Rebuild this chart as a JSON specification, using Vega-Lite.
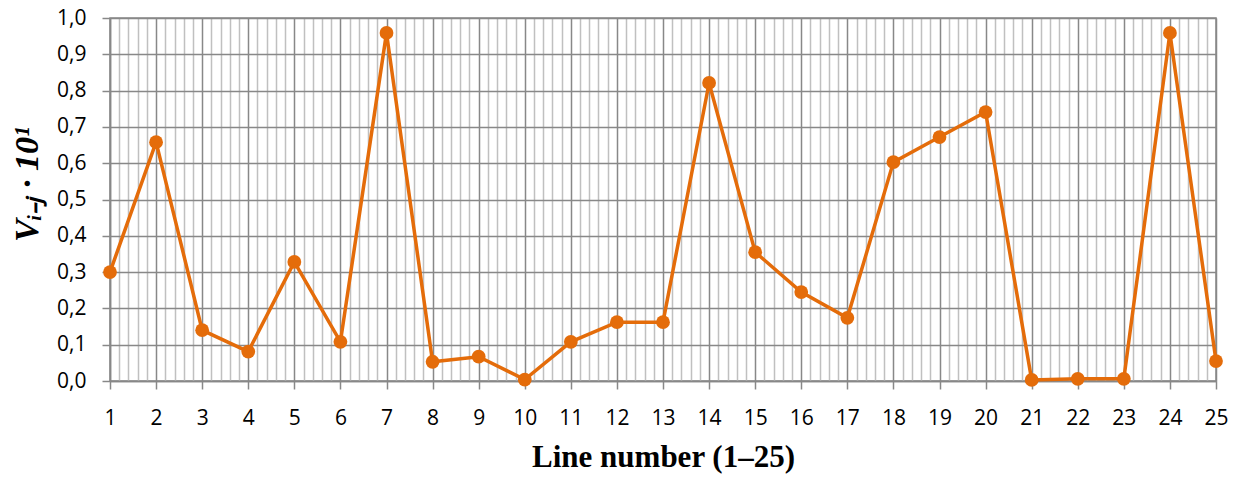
{
  "$schema": "https://vega.github.io/schema/vega-lite/v6.json",
  "autosize": {"type": "none"},
  "padding": {"left": 110, "top": 18, "right": 29, "bottom": 98},
  "width": 1106,
  "height": 363,
  "background": "white",
  "config": {"view": {"stroke": "#888888", "strokeWidth": 1.5}},
  "data": {"values": [
    {"line": 1, "v": 0.300},
    {"line": 2, "v": 0.658},
    {"line": 3, "v": 0.140},
    {"line": 4, "v": 0.081},
    {"line": 5, "v": 0.328},
    {"line": 6, "v": 0.108},
    {"line": 7, "v": 0.959},
    {"line": 8, "v": 0.053},
    {"line": 9, "v": 0.067},
    {"line": 10, "v": 0.004},
    {"line": 11, "v": 0.108},
    {"line": 12, "v": 0.162},
    {"line": 13, "v": 0.162},
    {"line": 14, "v": 0.821},
    {"line": 15, "v": 0.355},
    {"line": 16, "v": 0.245},
    {"line": 17, "v": 0.174},
    {"line": 18, "v": 0.603},
    {"line": 19, "v": 0.672},
    {"line": 20, "v": 0.741},
    {"line": 21, "v": 0.003},
    {"line": 22, "v": 0.006},
    {"line": 23, "v": 0.006},
    {"line": 24, "v": 0.959},
    {"line": 25, "v": 0.055}
  ]},
  "encoding": {
    "y": {"field": "v", "type": "quantitative",
      "scale": {"domain": [0, 1], "nice": false},
      "axis": {"values": [0,0.1,0.2,0.3,0.4,0.5,0.6,0.7,0.8,0.9,1.0],
        "labelExpr": "replace(format(datum.value, '.1f'), '.', ',')",
        "labelOverlap": false,
        "grid": true, "gridColor": "#888888", "gridWidth": 1.5,
        "domain": true, "domainColor": "#888888", "domainWidth": 1.5,
        "ticks": true, "tickSize": 8, "tickColor": "#888888", "tickWidth": 1.5,
        "labelFont": "Open Sans", "labelFontSize": 21, "labelColor": "#000000", "labelPadding": 16,
        "title": "Vᵢ₋ⱼ · 10¹", "titleFont": "Liberation Serif", "titleFontSize": 34,
        "titleFontWeight": "bold", "titleFontStyle": "italic", "titleColor": "#000000", "titlePadding": 12,
        "titleY": 166}}
  },
  "layer": [
    {
      "mark": {"type": "line", "color": "#E46C0A", "strokeWidth": 3.5},
      "encoding": {
        "x": {"field": "line", "type": "quantitative",
          "scale": {"domain": [1, 25], "nice": false, "zero": false},
          "axis": {"orient": "top", "title": null, "labels": false, "ticks": false, "domain": false,
            "grid": true, "gridColor": "#c0c0c0", "gridWidth": 1.5,
            "values": [1.2,1.4,1.6,1.8,2.2,2.4,2.6,2.8,3.2,3.4,3.6,3.8,4.2,4.4,4.6,4.8,5.2,5.4,5.6,5.8,6.2,6.4,6.6,6.8,7.2,7.4,7.6,7.8,8.2,8.4,8.6,8.8,9.2,9.4,9.6,9.8,10.2,10.4,10.6,10.8,11.2,11.4,11.6,11.8,12.2,12.4,12.6,12.8,13.2,13.4,13.6,13.8,14.2,14.4,14.6,14.8,15.2,15.4,15.6,15.8,16.2,16.4,16.6,16.8,17.2,17.4,17.6,17.8,18.2,18.4,18.6,18.8,19.2,19.4,19.6,19.8,20.2,20.4,20.6,20.8,21.2,21.4,21.6,21.8,22.2,22.4,22.6,22.8,23.2,23.4,23.6,23.8,24.2,24.4,24.6,24.8]}}
      }
    },
    {
      "mark": {"type": "point", "filled": true, "color": "#E46C0A", "size": 190, "opacity": 1},
      "encoding": {
        "x": {"field": "line", "type": "quantitative",
          "scale": {"domain": [1, 25], "nice": false, "zero": false},
          "axis": {"orient": "bottom", "values": [1,2,3,4,5,6,7,8,9,10,11,12,13,14,15,16,17,18,19,20,21,22,23,24,25],
            "format": "d",
            "grid": true, "gridColor": "#888888", "gridWidth": 1.5,
            "domain": true, "domainColor": "#888888", "domainWidth": 1.5,
            "ticks": true, "tickSize": 8, "tickColor": "#888888", "tickWidth": 1.5,
            "labelFont": "Open Sans", "labelFontSize": 21, "labelColor": "#000000", "labelPadding": 18,
            "labelFlush": false, "labelOverlap": false,
            "title": "Line number (1–25)", "titleFont": "Liberation Serif", "titleFontSize": 31,
            "titleFontWeight": "bold", "titleColor": "#000000", "titlePadding": 14}}
      }
    }
  ],
  "resolve": {"axis": {"x": "independent"}}
}
